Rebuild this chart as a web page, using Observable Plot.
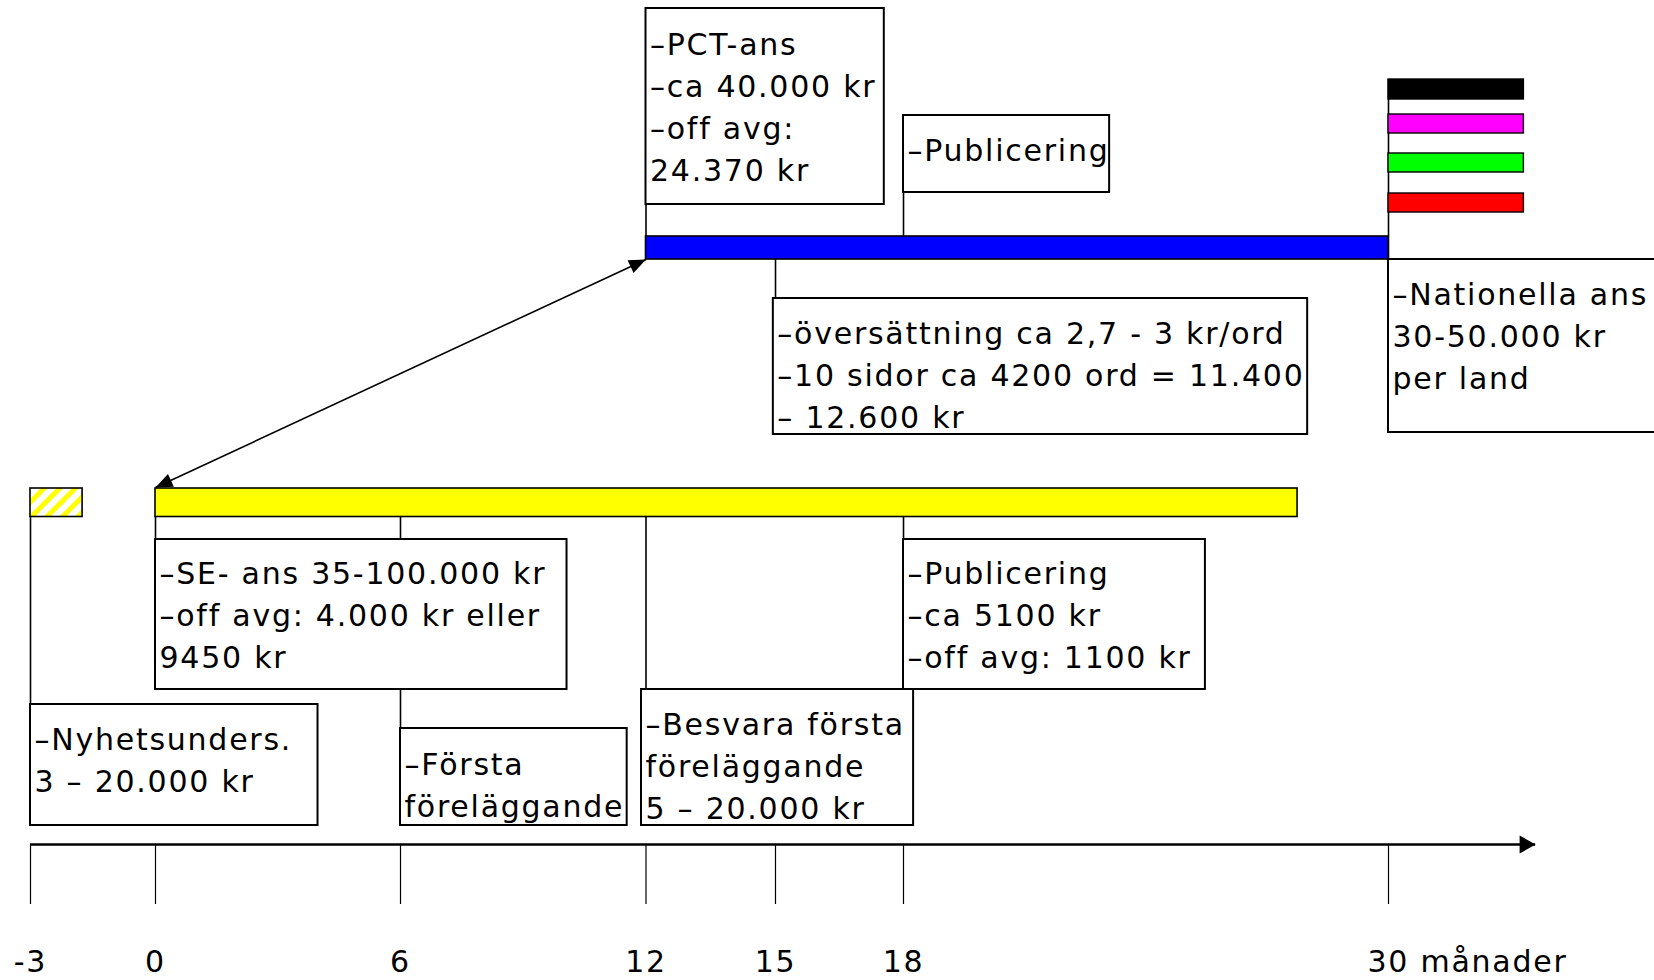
<!DOCTYPE html>
<html>
<head>
<meta charset="utf-8">
<script src="https://cdn.jsdelivr.net/npm/d3@7"></script>
<script src="https://cdn.jsdelivr.net/npm/@observablehq/plot@0.6"></script>
<style>
html, body { margin: 0; padding: 0; background: #fff; overflow: hidden; }
#chart svg { display: block; }
#chart svg text { letter-spacing: 1.75px; }
</style>
</head>
<body>
<div id="chart"></div>
<script>
// ---------------- DATA ----------------
// time axis (months)
const tickMonths = [-3, 0, 6, 12, 15, 18, 30];
const tickLabels = ["-3", "0", "6", "12", "15", "18", "30 månader"];

// phases (bars), months
const phaseNames = ["Nyhetsundersökning", "SE-ansökan", "PCT-ansökan"];
const phaseStart = [-3, 0, 12];
const phaseEnd = [-1.75, 27.75, 30];

// national-phase bars (one per country)
const nationalNames = ["Land 1", "Land 2", "Land 3", "Land 4"];
const nationalStart = [30, 30, 30, 30];
const nationalEnd = [33.35, 33.35, 33.35, 33.35];

// priority link: SE filing -> PCT filing
const linkFromMonth = 0;
const linkToMonth = 12;

// notes (month where the note attaches, text)
const noteMonths = [12, 18, 15, 30, 0, 18, -3, 6, 12];
const noteTexts = [
  "–PCT-ans\n–ca 40.000 kr\n–off avg:\n24.370 kr",
  "–Publicering",
  "–översättning ca 2,7 - 3 kr/ord\n–10 sidor ca 4200 ord = 11.400\n– 12.600 kr",
  "–Nationella ans\n30-50.000 kr\nper land",
  "–SE- ans 35-100.000 kr\n–off avg: 4.000 kr eller\n9450 kr",
  "–Publicering\n–ca 5100 kr\n–off avg: 1100 kr",
  "–Nyhetsunders.\n3 – 20.000 kr",
  "–Första\nföreläggande",
  "–Besvara första\nföreläggande\n5 – 20.000 kr"
];

// ---------------- LAYOUT & STYLE ----------------
const W = 1654, H = 980;
// the drawn time axis is not evenly spaced: piecewise-linear month scale
const X_DOMAIN = [-3, 0, 6, 12, 15, 18, 30];
const X_RANGE = [30, 155, 400, 645.5, 775, 903, 1388];
const xs = d3.scaleLinear(X_DOMAIN, X_RANGE);
const ys = d3.scaleLinear([0, H], [0, H]);
const FONT = "DejaVu Sans";
const FS = 30;

const L = {
  national: [[79, 99], [114, 133], [153, 172], [193, 212]],
  pct: [236, 259],
  se: [488, 516.5],
  axisY: 844, tickEnd: 904, tickLabelY: 962,
  axisEnd: 33.64,
  linkY1: 487, linkY2: 259
};
const phaseLane = [L.se, L.se, L.pct];
const phaseFill = ["url(#hatch)", "#FFFF00", "#0000FF"];
const nationalFill = ["#000000", "#FF00FF", "#00FF00", "#FF0000"];

// note boxes: [x1 (months), x2 (months), y1, y2, text centre y, connector y1, connector y2]
const noteLayout = [
  [12, 17.55, 8, 204, 104, 204, 236],
  [18, 23.1, 115, 192, 147, 192, 236],
  [14.95, 28, 298, 434, 372.5, 259, 298],
  [30, 37, 259, 432, 333, 79, 432],
  [0, 10.07, 539, 689, 612, 516.5, 539],
  [18, 25.47, 539, 689, 612, 516.5, 539],
  [-3, 3.98, 704, 825, 757, 516.5, 704],
  [6, 11.54, 728, 825, 782, 516.5, 728],
  [11.89, 18.25, 689, 825, 763, 516.5, 689]
];

const notes = noteMonths.map((m, i) => {
  const [bx1, bx2, by1, by2, ty, cy1, cy2] = noteLayout[i];
  return {month: m, text: noteTexts[i], bx1, bx2, by1, by2, ty, cy1, cy2};
});
const phases = phaseNames.map((n, i) => ({
  name: n, start: phaseStart[i], end: phaseEnd[i],
  y1: phaseLane[i][0], y2: phaseLane[i][1], fill: phaseFill[i]
}));
const nationals = nationalNames.map((n, i) => ({
  name: n, start: nationalStart[i], end: nationalEnd[i],
  y1: L.national[i][0], y2: L.national[i][1], fill: nationalFill[i]
}));
const ticks = tickMonths.map((m, i) => ({month: m, label: tickLabels[i]}));

// filled triangular arrow head pointing along (dx, dy) in screen space, tip at the point
function head(dx, dy, len, half) {
  const n = Math.hypot(dx, dy), ux = dx / n, uy = dy / n;
  return {
    draw(ctx) {
      ctx.moveTo(0, 0);
      ctx.lineTo(-ux * len - uy * half, -uy * len + ux * half);
      ctx.lineTo(-ux * len + uy * half, -uy * len - ux * half);
      ctx.closePath();
    }
  };
}
const ldx = xs(linkToMonth) - xs(linkFromMonth);
const ldy = ys(L.linkY2) - ys(L.linkY1);

const textOpts = {fontFamily: FONT, fontSize: FS, fill: "black"};

const chart = Plot.plot({
  width: W,
  height: H,
  margin: 0,
  x: {type: "linear", domain: X_DOMAIN, range: X_RANGE, axis: null},
  y: {domain: [0, H], range: [0, H], axis: null},
  color: {type: "identity"},
  style: {fontFamily: FONT, background: "white"},
  marks: [
    // connectors
    Plot.ruleX(notes, {x: "month", y1: "cy1", y2: "cy2", stroke: "black", strokeWidth: 1.6}),
    // note boxes
    Plot.rect(notes, {x1: "bx1", x2: "bx2", y1: "by1", y2: "by2", fill: "white", stroke: "black", strokeWidth: 2}),
    Plot.text(notes, {x: "bx1", y: "ty", text: "text", textAnchor: "start", lineAnchor: "middle", lineHeight: 1.4, dx: 4, ...textOpts}),
    // phase bars
    Plot.rect(phases, {x1: "start", x2: "end", y1: "y1", y2: "y2", fill: "fill", stroke: "black", strokeWidth: 1.6}),
    Plot.rect(nationals, {x1: "start", x2: "end", y1: "y1", y2: "y2", fill: "fill", stroke: "black", strokeWidth: 1.4}),
    // double-headed priority arrow
    Plot.link([0], {x1: () => linkFromMonth, x2: () => linkToMonth, y1: () => L.linkY1, y2: () => L.linkY2, stroke: "black", strokeWidth: 1.6}),
    Plot.dot([0], {x: () => linkToMonth, y: () => L.linkY2, r: 10, symbol: head(ldx, ldy, 17, 7), fill: "black", stroke: "none"}),
    Plot.dot([0], {x: () => linkFromMonth, y: () => L.linkY1, r: 10, symbol: head(-ldx, -ldy, 17, 7), fill: "black", stroke: "none"}),
    // time axis
    Plot.ruleY([L.axisY], {x1: tickMonths[0], x2: L.axisEnd, stroke: "black", strokeWidth: 2.5}),
    Plot.dot([L.axisY], {x: () => L.axisEnd, y: d => d, r: 10, symbol: head(1, 0, 16, 9), fill: "black", stroke: "none"}),
    Plot.ruleX(ticks, {x: "month", y1: () => L.axisY, y2: () => L.tickEnd, stroke: "black", strokeWidth: 1.2}),
    Plot.text(ticks.slice(0, -1), {x: "month", y: () => L.tickLabelY, text: "label", textAnchor: "middle", ...textOpts}),
    Plot.text(ticks.slice(-1), {x: "month", y: () => L.tickLabelY, text: "label", textAnchor: "start", dx: -21, ...textOpts})
  ]
});

// hatch pattern for the novelty-search bar
const defs = d3.select(chart).insert("defs", ":first-child");
const pat = defs.append("pattern")
  .attr("id", "hatch")
  .attr("patternUnits", "userSpaceOnUse")
  .attr("width", 11).attr("height", 11)
  .attr("patternTransform", "rotate(45)");
pat.append("rect").attr("width", 11).attr("height", 11).attr("fill", "white");
pat.append("rect").attr("width", 5).attr("height", 11).attr("fill", "#FFFF00");

document.getElementById("chart").appendChild(chart);
</script>
</body>
</html>
